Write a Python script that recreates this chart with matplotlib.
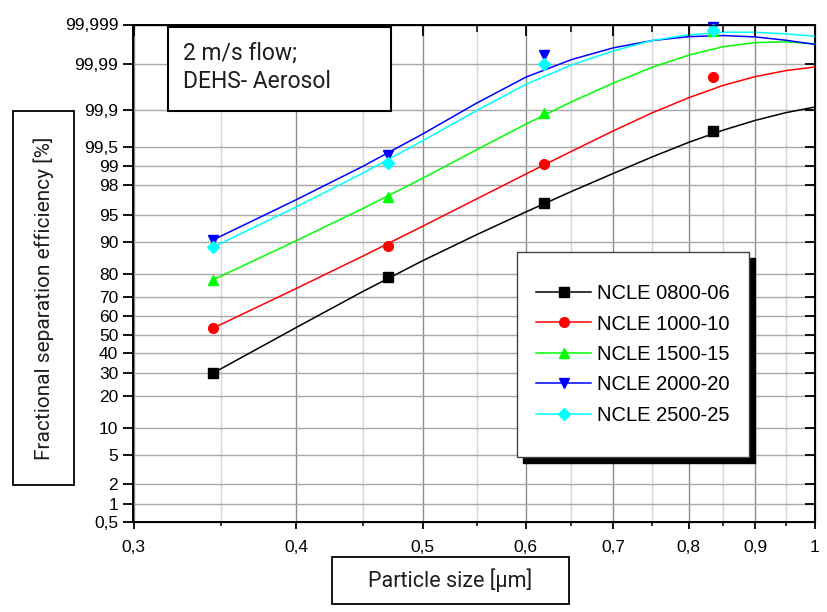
from statistics import NormalDist

import matplotlib
matplotlib.use("Agg")
import matplotlib.pyplot as plt
import numpy as np
from matplotlib.lines import Line2D
from matplotlib.patches import Rectangle

# measured points
marker_x = [0.345, 0.47, 0.62, 0.835]
pts_0800 = [29.84, 78.75, 96.45, 99.748]
pts_1000 = [53.55, 88.9, 99.05, 99.980]
pts_1500 = [77.43, 97.06, 99.886, 99.9985]
pts_2000 = [90.35, 99.32, 99.994, 99.9988]
pts_2500 = [88.53, 99.10, 99.9903, 99.9986]

# fitted curves
curve_x = [0.345, 0.4, 0.45, 0.5, 0.55, 0.6, 0.65, 0.7, 0.75, 0.8, 0.85, 0.9, 0.95, 1.0]
fit_0800 = [29.84, 54.06, 72.48, 84.59, 91.56, 95.44, 97.55, 98.67, 99.276, 99.592,
            99.754, 99.840, 99.887, 99.913]
fit_1000 = [53.55, 73.83, 86.06, 93.22, 96.91, 98.645, 99.413, 99.746, 99.886, 99.944,
            99.9695, 99.9807, 99.9859, 99.9884]
fit_1500 = [77.43, 90.23, 95.88, 98.43, 99.452, 99.811, 99.9313, 99.9729, 99.9882,
            99.99395, 99.99624, 99.99704, 99.99717, 99.99682]
fit_2000 = [90.35, 96.84, 98.975, 99.711, 99.9274, 99.9801, 99.99219, 99.99599, 99.99737,
            99.99792, 99.99805, 99.99788, 99.99742, 99.99672]
fit_2500 = [88.53, 96.07, 98.693, 99.617, 99.8972, 99.9712, 99.9895, 99.99519, 99.99739,
            99.99813, 99.9984, 99.9984, 99.99823, 99.99796]

series = [
    ("NCLE 0800-06", "black", "s", pts_0800, fit_0800),
    ("NCLE 1000-10", "#ff0000", "o", pts_1000, fit_1000),
    ("NCLE 1500-15", "#00ff00", "^", pts_1500, fit_1500),
    ("NCLE 2000-20", "#0000ff", "v", pts_2000, fit_2000),
    ("NCLE 2500-25", "#00ffff", "D", pts_2500, fit_2500),
]

x_ticks = [0.3, 0.4, 0.5, 0.6, 0.7, 0.8, 0.9, 1.0]
x_labels = ["0,3", "0,4", "0,5", "0,6", "0,7", "0,8", "0,9", "1"]
x_minor = [0.35, 0.45, 0.55, 0.65, 0.75, 0.85, 0.95]
y_ticks = [0.5, 1, 2, 5, 10, 20, 30, 40, 50, 60, 70, 80, 90, 95, 98, 99, 99.5, 99.9, 99.99, 99.999]
y_labels = ["0,5", "1", "2", "5", "10", "20", "30", "40", "50", "60", "70", "80", "90",
            "95", "98", "99", "99,5", "99,9", "99,99", "99,999"]

_nd = NormalDist()


def prob_fwd(p):
    p = np.clip(np.asarray(p, dtype=float) / 100.0, 1e-9, 1 - 1e-9)
    return np.vectorize(_nd.inv_cdf, otypes=[float])(p)


def prob_inv(z):
    return np.vectorize(_nd.cdf, otypes=[float])(np.asarray(z, dtype=float)) * 100.0


W, H = 828, 612
fig = plt.figure(figsize=(W / 100, H / 100), dpi=100)
ax = fig.add_axes([133.5 / W, (H - 522.3) / H, (815 - 133.5) / W, (522.3 - 24.5) / H])

TICK_FONT = "Liberation Sans"
DIN_FONT = "Roboto"
DIN_COLOR = "#1e1e1e"

ax.set_xscale("log")
ax.set_yscale("function", functions=(prob_fwd, prob_inv))
ax.set_xlim(0.3, 1.0)
ax.set_ylim(0.5, 99.999)
ax.set_xticks(x_ticks)
ax.set_xticklabels(x_labels, fontfamily=TICK_FONT, fontsize=12.5)
ax.set_xticks(x_minor, minor=True)
ax.set_xticklabels([], minor=True)
ax.set_yticks(y_ticks)
ax.set_yticklabels(y_labels, fontfamily=TICK_FONT, fontsize=12.5)
ax.yaxis.set_minor_locator(matplotlib.ticker.NullLocator())
ax.tick_params(axis="both", which="major", direction="out", width=1.3, colors="black")
ax.tick_params(axis="y", which="major", length=7, pad=4)
ax.tick_params(axis="x", which="major", length=5, pad=8)
ax.tick_params(axis="x", which="minor", direction="out", length=3, width=1.1)

ax.grid(True, axis="y", which="major", color="#a8a8a8", lw=1.0)
ax.grid(True, axis="x", which="major", color="#8c8c8c", lw=1.0)
ax.grid(True, axis="x", which="minor", color="#d6d6d6", lw=1.0)
ax.set_axisbelow(True)
for sp in ax.spines.values():
    sp.set_linewidth(1.4)

# inward ticks on top and right
axt = ax.twiny()
axt.set_xscale("log")
axt.set_xlim(0.3, 1.0)
axt.set_xticks(x_ticks)
axt.set_xticks(x_minor, minor=True)
axt.set_xticklabels([])
axt.set_xticklabels([], minor=True)
axt.tick_params(axis="x", which="major", direction="in", length=8, width=1.3)
axt.tick_params(axis="x", which="minor", direction="in", length=5, width=1.1)
axr = ax.twinx()
axr.set_yscale("function", functions=(prob_fwd, prob_inv))
axr.set_ylim(0.5, 99.999)
axr.set_yticks(y_ticks)
axr.set_yticklabels([])
axr.yaxis.set_minor_locator(matplotlib.ticker.NullLocator())
axr.tick_params(axis="y", which="major", direction="in", length=7, width=1.3)

handles = []
for name, color, marker, pts, fit in series:
    ms = 6.5 if marker == "D" else 7
    ax.plot(curve_x, fit, color=color, lw=1.1, zorder=3)
    ax.plot(marker_x, pts, ls="none", marker=marker, color=color, ms=ms, zorder=4, clip_on=False)
    handles.append(Line2D([], [], color=color, lw=1.1, marker=marker, ms=ms, label=name))


def px_rect(x0, y0, x1, y1, **kw):
    r = Rectangle((x0 / W, (H - y1) / H), (x1 - x0) / W, (y1 - y0) / H,
                  transform=fig.transFigure, **kw)
    fig.add_artist(r)
    return r


# annotation box
px_rect(168, 27, 391, 111, facecolor="white", edgecolor="black", lw=1.5, zorder=5)
fig.text(183 / W, (H - 67) / H, "2 m/s flow;\nDEHS- Aerosol", fontfamily=DIN_FONT,
         fontsize=16.5, color=DIN_COLOR, va="center", ha="left", linespacing=1.3, zorder=6)

# legend box with shadow
px_rect(523, 258, 755, 463, facecolor="black", edgecolor="black", lw=1.0, zorder=5)
px_rect(517, 252, 749, 457, facecolor="white", edgecolor="#444444", lw=1.0, zorder=6)
leg = fig.legend(handles=handles, loc="center", bbox_to_anchor=(633 / W, (H - 354.5) / H),
                 frameon=False, prop={"family": TICK_FONT, "size": 14.5},
                 handlelength=2.7, handletextpad=0.3, labelspacing=0.57)
leg.set_zorder(7)

# axis label boxes
px_rect(13, 111, 74, 485, facecolor="white", edgecolor="black", lw=1.3, zorder=5)
fig.text(43.5 / W, (H - 298) / H, "Fractional separation efficiency [%]", rotation=90,
         fontfamily=DIN_FONT, fontsize=15, color=DIN_COLOR, ha="center", va="center", zorder=6)
px_rect(332, 557, 569, 604, facecolor="white", edgecolor="black", lw=1.3, zorder=5)
fig.text(450.5 / W, (H - 580.5) / H, "Particle size [µm]", fontfamily=DIN_FONT,
         fontsize=15.5, color=DIN_COLOR, ha="center", va="center", zorder=6)

fig.savefig("out.png", dpi=100)
